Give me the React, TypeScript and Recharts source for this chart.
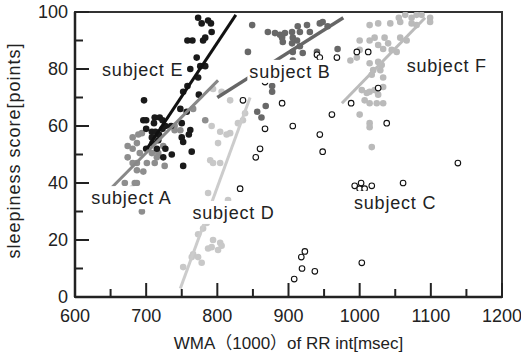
import { ScatterChart, Scatter, XAxis, YAxis, ReferenceArea, Label } from 'recharts';

// axis ticks (minor ticks carry no label)
const xTicks = [600, 650, 700, 750, 800, 850, 900, 950, 1000, 1050, 1100, 1150, 1200];
const yTicks = [0, 10, 20, 30, 40, 50, 60, 70, 80, 90, 100];
const xLabelled = [600, 700, 800, 900, 1000, 1100, 1200];
const yLabelled = [0, 20, 40, 60, 80, 100];

const subjectA = [
  { x: 689, y: 57 }, { x: 694, y: 57.5 }, { x: 687, y: 54 }, { x: 674, y: 53 }, { x: 681, y: 52 },
  { x: 691, y: 50.5 }, { x: 674, y: 49 }, { x: 687, y: 47 }, { x: 681, y: 47 }, { x: 701, y: 47 },
  { x: 708, y: 50.5 }, { x: 712, y: 47 }, { x: 717, y: 50.5 }, { x: 696, y: 44 }, { x: 687, y: 44.5 },
  { x: 670, y: 40 }, { x: 684, y: 40 }, { x: 680, y: 38 }, { x: 687, y: 40 }, { x: 724, y: 53 },
  { x: 740, y: 60 }, { x: 740, y: 58.5 }, { x: 748, y: 58.5 }, { x: 726, y: 46 }, { x: 715, y: 49 },
  { x: 766, y: 66 }, { x: 694, y: 30 }, { x: 681, y: 56 }, { x: 783, y: 62 },
];

const subjectB = [
  { x: 849, y: 95.4 }, { x: 843, y: 86 }, { x: 871, y: 93 }, { x: 881, y: 92.6 }, { x: 888, y: 92 },
  { x: 895, y: 92.6 }, { x: 905, y: 93 }, { x: 913, y: 95 }, { x: 916, y: 93 }, { x: 926, y: 95.4 },
  { x: 930, y: 93 }, { x: 944, y: 96 }, { x: 948, y: 96.5 }, { x: 955, y: 95 }, { x: 906, y: 91 },
  { x: 912, y: 90 }, { x: 905, y: 89 }, { x: 892, y: 89.5 }, { x: 891, y: 91 }, { x: 916, y: 88 },
  { x: 906, y: 86 }, { x: 920, y: 85.6 }, { x: 940, y: 86 }, { x: 969, y: 87 }, { x: 906, y: 83 },
  { x: 877, y: 74 }, { x: 877, y: 72 }, { x: 868, y: 67 }, { x: 856, y: 65 }, { x: 862, y: 63 },
];

const subjectC = [
  { x: 940, y: 85 }, { x: 944, y: 84 }, { x: 968, y: 84 }, { x: 996, y: 86 }, { x: 1012, y: 86 },
  { x: 867, y: 75.4 }, { x: 891, y: 68 }, { x: 988, y: 68 }, { x: 1026, y: 73.3 }, { x: 961, y: 64 },
  { x: 867, y: 59 }, { x: 906, y: 60 }, { x: 944, y: 57 }, { x: 1038, y: 61 }, { x: 948, y: 51 },
  { x: 860, y: 52 }, { x: 854, y: 49 }, { x: 1138, y: 47 }, { x: 836, y: 69 }, { x: 832, y: 38 },
  { x: 993, y: 39 }, { x: 1000, y: 38 }, { x: 1007, y: 38 }, { x: 1017, y: 39 }, { x: 1002, y: 40 },
  { x: 1061, y: 40 }, { x: 923, y: 16 }, { x: 918, y: 14 }, { x: 919, y: 10 }, { x: 937, y: 9 },
  { x: 908, y: 6.3 }, { x: 1003, y: 12 },
];

const subjectD = [
  { x: 815, y: 34 }, { x: 780, y: 24 }, { x: 794, y: 20 }, { x: 804, y: 19 }, { x: 806, y: 18 },
  { x: 787, y: 17 }, { x: 792, y: 17.5 }, { x: 766, y: 15 }, { x: 773, y: 14 }, { x: 778, y: 12 },
  { x: 752, y: 10.5 }, { x: 764, y: 14 }, { x: 787, y: 36.5 }, { x: 773, y: 22 }, { x: 785, y: 26 },
  { x: 801, y: 16.5 }, { x: 792, y: 60 }, { x: 804, y: 58 }, { x: 818, y: 57.5 }, { x: 813, y: 57 },
  { x: 801, y: 54 }, { x: 790, y: 48 }, { x: 794, y: 47 }, { x: 804, y: 47 }, { x: 836, y: 62 },
  { x: 829, y: 61 }, { x: 794, y: 73 }, { x: 806, y: 72 }, { x: 818, y: 69 }, { x: 839, y: 64.5 },
];

const subjectE = [
  { x: 773, y: 98 }, { x: 778, y: 96 }, { x: 787, y: 97 }, { x: 791, y: 96 }, { x: 792, y: 93 },
  { x: 758, y: 90 }, { x: 765, y: 90 }, { x: 780, y: 90 }, { x: 783, y: 91 }, { x: 771, y: 84 },
  { x: 776, y: 81 }, { x: 783, y: 81 }, { x: 762, y: 80 }, { x: 773, y: 77 }, { x: 758, y: 74 },
  { x: 752, y: 72 }, { x: 774, y: 71 }, { x: 748, y: 66 }, { x: 757, y: 65 }, { x: 697, y: 69 },
  { x: 696, y: 62 }, { x: 700, y: 62 }, { x: 712, y: 63 }, { x: 719, y: 63 }, { x: 723, y: 62 },
  { x: 700, y: 59 }, { x: 711, y: 61 }, { x: 708, y: 58 }, { x: 713, y: 58 }, { x: 718, y: 57 },
  { x: 723, y: 59 }, { x: 727, y: 60 }, { x: 735, y: 60 }, { x: 708, y: 56 }, { x: 709, y: 54 },
  { x: 717, y: 55 }, { x: 715, y: 52 }, { x: 700, y: 52 }, { x: 727, y: 52 }, { x: 724, y: 49 },
  { x: 736, y: 50 }, { x: 750, y: 61 }, { x: 762, y: 58.6 }, { x: 760, y: 57 }, { x: 750, y: 56 },
  { x: 752, y: 54.4 }, { x: 764, y: 51 }, { x: 752, y: 46 },
];

const subjectF = [
  { x: 1014, y: 95.4 }, { x: 1026, y: 96 }, { x: 1043, y: 96 }, { x: 1055, y: 98 }, { x: 1064, y: 99 },
  { x: 1073, y: 98 }, { x: 1080, y: 99 }, { x: 1087, y: 99 }, { x: 1099, y: 98 }, { x: 1099, y: 96.5 },
  { x: 1073, y: 96 }, { x: 1080, y: 95.4 }, { x: 1057, y: 96.5 }, { x: 1000, y: 90 }, { x: 1014, y: 90 },
  { x: 1021, y: 91 }, { x: 1035, y: 91 }, { x: 1026, y: 88.4 }, { x: 1040, y: 89 }, { x: 1057, y: 91 },
  { x: 1066, y: 90 }, { x: 1033, y: 87 }, { x: 1045, y: 86.7 }, { x: 1052, y: 86 }, { x: 1000, y: 86.7 },
  { x: 987, y: 83 }, { x: 996, y: 84 }, { x: 1014, y: 82 }, { x: 1026, y: 82.5 }, { x: 1031, y: 81.4 },
  { x: 1019, y: 79.6 }, { x: 1029, y: 79.6 }, { x: 1017, y: 78 }, { x: 1033, y: 77 }, { x: 1033, y: 73.7 },
  { x: 1003, y: 72.6 }, { x: 1010, y: 71.6 }, { x: 1014, y: 72 }, { x: 1021, y: 72.6 }, { x: 1026, y: 71 },
  { x: 1007, y: 69 }, { x: 1014, y: 68 }, { x: 1024, y: 68 }, { x: 1033, y: 68 }, { x: 1000, y: 64 },
  { x: 1014, y: 61 }, { x: 1014, y: 59.6 }, { x: 1017, y: 52.6 },
];

// regression line end points per subject
const fitA = [{ x: 650, y: 38 }, { x: 801, y: 76 }];
const fitB = [{ x: 800, y: 70 }, { x: 977, y: 98 }];
const fitD = [{ x: 748, y: 3 }, { x: 846, y: 70 }];
const fitE = [{ x: 701, y: 52 }, { x: 826, y: 99 }];
const fitF = [{ x: 975, y: 68 }, { x: 1092, y: 98 }];

const subjectLabels = [
  { name: 'subject E', x: 638, y: 79.6 },
  { name: 'subject B', x: 845, y: 79 },
  { name: 'subject F', x: 1066, y: 81 },
  { name: 'subject A', x: 623, y: 34.7 },
  { name: 'subject D', x: 765, y: 29.5 },
  { name: 'subject C', x: 992, y: 33 },
];

const FONT = '"Liberation Sans", Arial, "Noto Sans CJK JP", sans-serif';

const dot = (fill: string) => (p: any) => <circle cx={p.cx} cy={p.cy} r={3.3} fill={fill} />;
const ring = (p: any) => <circle cx={p.cx} cy={p.cy} r={2.8} fill="#fff" stroke="#111" strokeWidth={1.1} />;
const none = () => <g />;

const labelShape = (p: any) => (
  <g>
    <rect x={p.cx - 2} y={p.cy - 12} width={85} height={23} fill="#fff" />
    <text x={p.cx} y={p.cy + 6} fontSize={18} letterSpacing={0.8} fill="#222" fontFamily={FONT}>
      {p.payload.name}
    </text>
  </g>
);

const XTick = (p: any) => {
  const v = p.payload.value;
  const major = xLabelled.includes(v);
  return (
    <g>
      <line x1={p.x} x2={p.x} y1={p.y} y2={p.y - (major ? 14 : 8)} stroke="#222" strokeWidth={2} />
      {major && (
        <text x={p.x} y={p.y + 25} textAnchor="middle" fontSize={18} fill="#222" fontFamily={FONT}>{v}</text>
      )}
    </g>
  );
};

const YTick = (p: any) => {
  const v = p.payload.value;
  const major = yLabelled.includes(v);
  return (
    <g>
      <line x1={p.x} x2={p.x + (major ? 14 : 8)} y1={p.y} y2={p.y} stroke="#222" strokeWidth={2} />
      {major && (
        <text x={p.x - 7} y={p.y + 6} textAnchor="end" fontSize={18} fill="#222" fontFamily={FONT}>{v}</text>
      )}
    </g>
  );
};

export default function App() {
  return (
    <div style={{ position: 'absolute', left: 0, top: 0, background: '#fff' }}>
      <ScatterChart width={521} height={360} margin={{ top: 12, right: 19, bottom: 0, left: 15 }}>
        <ReferenceArea x1={600} x2={1200} y1={0} y2={100} fill="none" stroke="#333" strokeWidth={2} />
        <XAxis
          type="number" dataKey="x" domain={[600, 1200]} ticks={xTicks} interval={0}
          height={63} tickSize={0} tickMargin={0} tickLine={false} tick={XTick} allowDataOverflow
          axisLine={{ stroke: '#222', strokeWidth: 2.5 }}
        >
          <Label
            content={(props: any) => {
              const vb = props.viewBox;
              return (
                <text x={vb.x + vb.width / 2} y={vb.y + 52} textAnchor="middle" fontSize={17} fill="#222" fontFamily={FONT}>
                  WMA（1000）of RR int[msec]
                </text>
              );
            }}
          />
        </XAxis>
        <YAxis
          type="number" dataKey="y" domain={[0, 100]} ticks={yTicks} interval={0}
          width={60} tickSize={0} tickMargin={0} tickLine={false} tick={YTick} allowDataOverflow
          axisLine={{ stroke: '#222', strokeWidth: 2.5 }}
        >
          <Label
            content={(props: any) => {
              const vb = props.viewBox;
              const cx = vb.x + 5;
              const cy = vb.y + vb.height / 2 - 4;
              return (
                <text x={cx} y={cy} transform={`rotate(-90 ${cx} ${cy})`} textAnchor="middle" fontSize={18}
                  letterSpacing={1} fill="#222" fontFamily={FONT}>
                  sleepiness score[points]
                </text>
              );
            }}
          />
        </YAxis>

        <Scatter data={subjectD} shape={dot('#c8c8c8')} isAnimationActive={false} />
        <Scatter data={subjectF} shape={dot('#bababa')} isAnimationActive={false} />
        <Scatter data={subjectB} shape={dot('#686868')} isAnimationActive={false} />
        <Scatter data={subjectA} shape={dot('#8e8e8e')} isAnimationActive={false} />
        <Scatter data={subjectE} shape={dot('#1a1a1a')} isAnimationActive={false} />
        <Scatter data={subjectC} shape={ring} isAnimationActive={false} />

        <Scatter data={fitD} shape={none} line={{ stroke: '#cccccc', strokeWidth: 3 }} isAnimationActive={false} />
        <Scatter data={fitF} shape={none} line={{ stroke: '#bbbbbb', strokeWidth: 3 }} isAnimationActive={false} />
        <Scatter data={fitA} shape={none} line={{ stroke: '#888888', strokeWidth: 3 }} isAnimationActive={false} />
        <Scatter data={fitB} shape={none} line={{ stroke: '#666666', strokeWidth: 3.5 }} isAnimationActive={false} />
        <Scatter data={fitE} shape={none} line={{ stroke: '#111111', strokeWidth: 3 }} isAnimationActive={false} />

        <Scatter data={subjectLabels} shape={labelShape} isAnimationActive={false} />
      </ScatterChart>
    </div>
  );
}
